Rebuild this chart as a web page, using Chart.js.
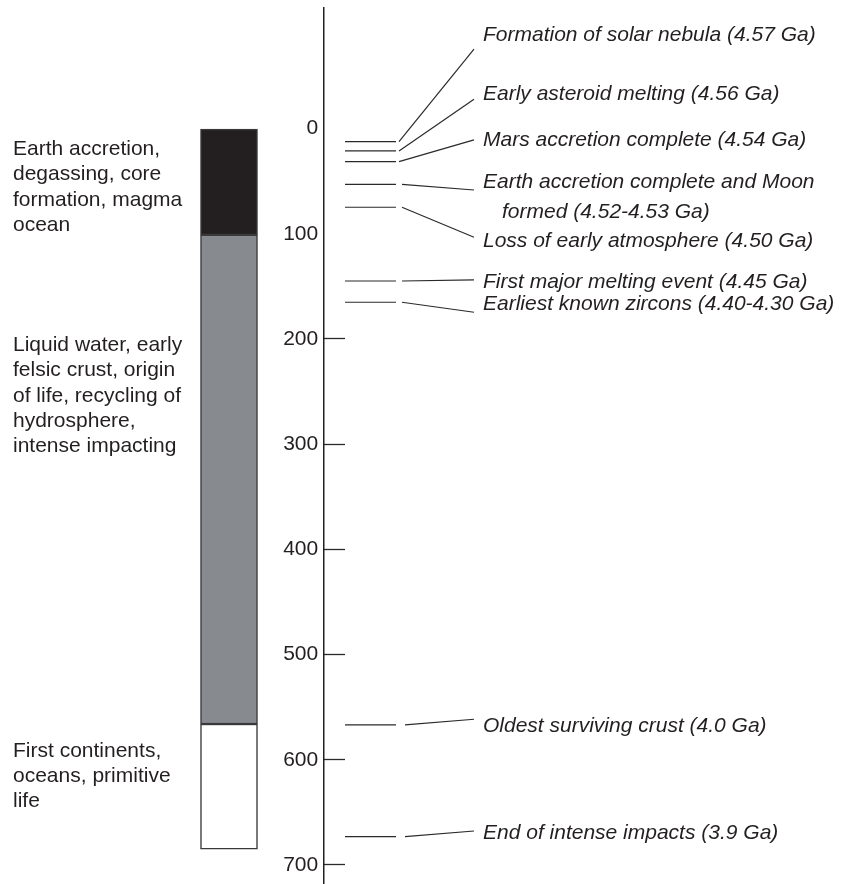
<!DOCTYPE html>
<html>
<head>
<meta charset="utf-8">
<script src="https://cdn.jsdelivr.net/npm/chart.js@4.4.1/dist/chart.umd.min.js"></script>
<style>
html,body{margin:0;padding:0;background:#ffffff;}
canvas{display:block;}
</style>
</head>
<body>
<canvas id="c" width="841" height="884"></canvas>
<script>
// ---------------- DATA (Myr after formation of the solar system) ----------------
const tickValues = [0, 100, 200, 300, 400, 500, 600, 700];
const tickMarkValues = [200, 300, 400, 500, 600, 700];

const stageNames = ["Earth accretion", "Liquid water", "First continents"];
const stageStart = [0, 101, 566];
const stageEnd   = [101, 566, 685];
const stageText = [
  ["Earth accretion,", "degassing, core", "formation, magma", "ocean"],
  ["Liquid water, early", "felsic crust, origin", "of life, recycling of", "hydrosphere,", "intense impacting"],
  ["First continents,", "oceans, primitive", "life"]
];

const eventNames = [
  ["Formation of solar nebula (4.57 Ga)"],
  ["Early asteroid melting (4.56 Ga)"],
  ["Mars accretion complete (4.54 Ga)"],
  ["Earth accretion complete and Moon", "formed (4.52-4.53 Ga)"],
  ["Loss of early atmosphere (4.50 Ga)"],
  ["First major melting event (4.45 Ga)"],
  ["Earliest known zircons (4.40-4.30 Ga)"],
  ["Oldest surviving crust (4.0 Ga)"],
  ["End of intense impacts (3.9 Ga)"]
];
const eventValues = [12.5, 21.3, 31.5, 53, 74.8, 144.9, 165.1, 566.8, 673];

// ---------------- LAYOUT (positions of annotation text, in axis units / pixels) ----------------
const eventTextAt   = [-83.2, -27.2, 16.5, 56.5, 112.3, 151.2, 172.4, 573.3, 675];   // label baselines (axis units)
const connectorEnd  = [-75.4, -27.9, 10.8, 58.4, 103.3, 143.9, 174.6, 561.5, 667.7]; // leader end (axis units)
const connectorX0   = [399, 399, 399, 402, 402, 402, 402, 405, 405];
const stageTextAt   = [25.1, 211.4, 597];  // first-line baselines (axis units)

const X = {
  axis: 324, barCenter: 229, barWidth: 57, evLine0: 345, evLine1: 396,
  connEnd: 474, text: 483, textIndent: 502, leftText: 13
};
const FONT = '"Liberation Sans", Arial, Helvetica, sans-serif';
const INK = '#231f20';
const stageColors = ['#231f20', '#878b90', '#ffffff'];

// ---------------- DATASETS ----------------
const datasets = [];
stageNames.forEach((name, i) => {
  datasets.push({
    type: 'bar', label: name,
    data: [{ x: X.barCenter, y: [stageStart[i], stageEnd[i]] }],
    backgroundColor: stageColors[i], borderColor: '#3a3a3a', borderWidth: 1.5,
    borderSkipped: false, barThickness: X.barWidth, grouped: false, order: 2
  });
});
eventValues.forEach((v, i) => {
  datasets.push({
    type: 'line', label: 'event ' + i,
    data: [{ x: X.evLine0, y: v }, { x: X.evLine1, y: v }],
    borderColor: '#2a2a2a', borderWidth: 1.2, pointRadius: 0, fill: false, tension: 0, order: 1, clip: false
  });
  datasets.push({
    type: 'line', label: 'leader ' + i,
    data: [{ x: connectorX0[i], y: v }, { x: X.connEnd, y: connectorEnd[i] }],
    borderColor: '#2a2a2a', borderWidth: 1.2, pointRadius: 0, fill: false, tension: 0, order: 1, clip: false
  });
});

// ---------------- TEXT PLUGIN ----------------
const textPlugin = {
  id: 'annotText',
  afterDraw(chart) {
    const ctx = chart.ctx, ys = chart.scales.y, xs = chart.scales.x;
    ctx.save();
    ctx.fillStyle = INK;
    ctx.textAlign = 'left';
    ctx.textBaseline = 'alphabetic';
    ctx.font = 'italic 21px ' + FONT;
    eventNames.forEach((lines, i) => {
      const base = ys.getPixelForValue(eventTextAt[i]);
      lines.forEach((t, j) => {
        ctx.fillText(t, xs.getPixelForValue(j ? X.textIndent : X.text), base + j * 30);
      });
    });
    ctx.font = '21px ' + FONT;
    stageText.forEach((lines, i) => {
      const base = ys.getPixelForValue(stageTextAt[i]);
      lines.forEach((t, j) => ctx.fillText(t, xs.getPixelForValue(X.leftText), base + j * 25.3));
    });
    ctx.restore();
  }
};

new Chart(document.getElementById('c'), {
  type: 'bar',
  data: { datasets },
  options: {
    responsive: false, animation: false, devicePixelRatio: 1,
    layout: { padding: { top: 8, left: 0, right: 0, bottom: 0 } },
    plugins: { legend: { display: false }, tooltip: { enabled: false } },
    scales: {
      x: { type: 'linear', min: 0, max: 841, display: false, offset: false },
      y: {
        type: 'linear', reverse: true, min: -114.6, max: 718.1,
        position: { x: X.axis },
        afterBuildTicks: s => { s.ticks = tickValues.map(v => ({ value: v })); },
        afterFit: s => { s.paddingTop = 0; s.paddingBottom = 0; s.paddingLeft = 0; s.paddingRight = 0; },
        border: { display: true, color: INK, width: 1.5 },
        grid: {
          display: true, drawOnChartArea: false, drawTicks: true, tickLength: -22, tickWidth: 1.3,
          tickColor: c => (c.tick && tickMarkValues.includes(c.tick.value)) ? '#2a2a2a' : 'rgba(0,0,0,0)'
        },
        ticks: { font: { family: FONT, size: 21 }, color: INK, padding: 31, autoSkip: false,
                 callback: v => String(v) + ' ' }
      }
    }
  },
  plugins: [textPlugin]
});
</script>
</body>
</html>
